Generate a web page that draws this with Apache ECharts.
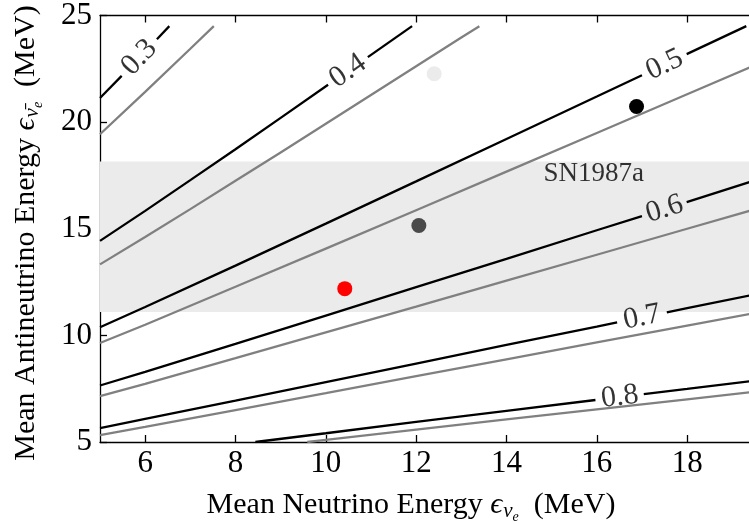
<!DOCTYPE html>
<html>
<head>
<meta charset="utf-8">
<script src="https://cdn.jsdelivr.net/npm/echarts@6/dist/echarts.min.js"></script>
<style>
  html, body { margin: 0; padding: 0; background: #ffffff; }
  #chart { width: 749px; height: 524px; }
</style>
</head>
<body>
<div id="chart"></div>
<script>
// Axis ranges and tick values (MeV)
const xRange = [5, 19.37];
const yRange = [5, 25];
const xTicks = [6, 8, 10, 12, 14, 16, 18];
const yTicks = [5, 10, 15, 20, 25];

// SN1987a antineutrino energy band (MeV)
const sn1987aBand = [11.1, 18.15];

// Contour levels
const levels = ['0.3', '0.4', '0.5', '0.6', '0.7', '0.8'];

// Black contours, each split in two pieces around its inline label
const black03 = [[[5, 21.13], [5.48, 22.17]], [[6.26, 23.89], [6.535, 24.5]]];
const black04 = [[[5, 14.43], [6, 15.84], [7, 17.28], [8, 18.73], [9, 20.20], [10.05, 21.75]],
                 [[10.93, 23.05], [11.91, 24.5]]];
const black05 = [[[5, 10.38], [6, 11.33], [8, 13.27], [10, 15.24], [12, 17.22], [14, 19.21], [16, 21.20], [17.0, 22.20]],
                 [[17.99, 23.19], [19.31, 24.5]]];
const black06 = [[[5, 7.65], [6, 8.29], [8, 9.60], [10, 10.93], [12, 12.26], [14, 13.59], [16, 14.93], [17.0, 15.59]],
                 [[17.99, 16.25], [19.4, 17.20]]];
const black07 = [[[5, 5.65], [6, 6.08], [8, 6.94], [10, 7.81], [12, 8.68], [14, 9.55], [16, 10.41], [16.45, 10.61]],
                 [[17.55, 11.08], [18, 11.28], [19.4, 11.88]]];
const black08 = [[[8.44, 5.0], [10, 5.41], [12, 5.94], [14, 6.46], [15.97, 6.97]],
                 [[17.04, 7.25], [18, 7.49], [19.4, 7.85]]];

// Gray contours (same levels, unlabeled)
const gray03 = [[5, 19.43], [6, 21.42], [7, 23.44], [7.52, 24.5]];
const gray04 = [[5, 13.33], [6, 14.61], [7, 15.92], [8, 17.25], [9, 18.58], [10, 19.92], [11, 21.27], [12, 22.62], [13, 23.97], [13.40, 24.5]];
const gray05 = [[5, 9.64], [6, 10.50], [8, 12.28], [10, 14.07], [12, 15.87], [14, 17.68], [16, 19.49], [18, 21.31], [19.4, 22.58]];
const gray06 = [[5, 7.15], [6, 7.73], [8, 8.93], [10, 10.14], [12, 11.35], [14, 12.57], [16, 13.78], [18, 15.00], [19.4, 15.85]];
const gray07 = [[5, 5.32], [6, 5.71], [8, 6.50], [10, 7.29], [12, 8.09], [14, 8.88], [16, 9.67], [18, 10.46], [19.4, 11.01]];
const gray08 = [[9.59, 5.0], [10, 5.10], [12, 5.58], [14, 6.06], [16, 6.53], [18, 7.00], [19.4, 7.33]];

// Inline label anchor on each black contour
const labelPoints = [[5.87, 23.03], [10.49, 22.40], [17.50, 22.69], [17.50, 15.92], [17.00, 10.85], [16.51, 7.11]];

// Model points (mean nu_e energy, mean nubar_e energy)
const modelPoints = [[10.42, 12.19], [12.06, 15.15], [12.40, 22.27], [16.88, 20.73]];

// SN1987a text anchor
const bandLabelPoint = [15.93, 17.55];

// ---- styling ----
const SERIF = '"Liberation Serif", "DejaVu Serif", serif';
const labelAngles = [46, 35, 25, 17.4, 11.4, 7];
const pointColors = ['#ff0000', '#4a4a4a', '#ebebeb', '#000000'];
const axisLineStyle = { color: '#000', width: 1.3 };

function lineSeries(pts, color, z) {
  return {
    type: 'line', data: pts, symbol: 'none', showSymbol: false, smooth: false,
    lineStyle: { color: color, width: 2.3 }, z: z, silent: true, clip: true
  };
}

const series = [];

// shaded band
series.push({
  type: 'line', data: [], z: 1, silent: true,
  markArea: {
    silent: true,
    itemStyle: { color: '#ebebeb' },
    data: [[{ yAxis: sn1987aBand[0] }, { yAxis: sn1987aBand[1] }]]
  }
});

[gray03, gray04, gray05, gray06, gray07, gray08].forEach(g => series.push(lineSeries(g, '#808080', 3)));
[black03, black04, black05, black06, black07, black08].forEach(b => {
  b.forEach(part => series.push(lineSeries(part, '#000000', 4)));
});

// contour labels
series.push({
  type: 'scatter', z: 6, silent: true, symbolSize: 1,
  itemStyle: { color: 'rgba(0,0,0,0)' },
  data: labelPoints.map((p, i) => ({
    value: p,
    label: {
      show: true, position: 'inside', formatter: levels[i], rotate: labelAngles[i],
      fontFamily: SERIF, fontSize: 30, color: '#000'
    }
  }))
});

// band label
series.push({
  type: 'scatter', z: 6, silent: true, symbolSize: 1,
  itemStyle: { color: 'rgba(0,0,0,0)' },
  data: [{ value: bandLabelPoint }],
  label: { show: true, position: 'inside', formatter: 'SN1987a', fontFamily: SERIF, fontSize: 27, color: '#000' }
});

// model points
series.push({
  type: 'scatter', z: 8, silent: true, symbolSize: 15,
  data: modelPoints.map((p, i) => ({ value: p, itemStyle: { color: pointColors[i], opacity: 1 } }))
});

const richTitle = {
  t: { fontFamily: SERIF, fontSize: 30, color: '#000' },
  m: { fontFamily: SERIF, fontSize: 30, fontStyle: 'italic', color: '#000' },
  s: { fontFamily: SERIF, fontSize: 21, fontStyle: 'italic', color: '#000', padding: [13, 0, 0, 1] },
  ss: { fontFamily: SERIF, fontSize: 14, fontStyle: 'italic', color: '#000', padding: [25, 0, 0, 0] }
};

const chart = echarts.init(document.getElementById('chart'), null, { renderer: 'canvas' });
chart.setOption({
  animation: false,
  backgroundColor: '#ffffff',
  grid: { left: 100, top: 15, right: -2, bottom: 82 },
  xAxis: [
    {
      type: 'value', position: 'bottom', min: xRange[0], max: xRange[1],
      axisLine: { show: true, onZero: false, lineStyle: axisLineStyle },
      axisTick: { show: true, inside: true, length: 7, customValues: xTicks, lineStyle: axisLineStyle },
      axisLabel: { show: true, customValues: xTicks, fontFamily: SERIF, fontSize: 31, color: '#000', margin: 6 },
      splitLine: { show: false }
    },
    {
      type: 'value', position: 'top', min: xRange[0], max: xRange[1],
      axisLine: { show: true, onZero: false, lineStyle: axisLineStyle },
      axisTick: { show: true, inside: true, length: 7, customValues: xTicks, lineStyle: axisLineStyle },
      axisLabel: { show: false },
      splitLine: { show: false }
    }
  ],
  yAxis: {
    type: 'value', min: yRange[0], max: yRange[1], interval: 5,
    axisLine: { show: true, onZero: false, lineStyle: axisLineStyle },
    axisTick: { show: true, inside: true, length: 7, customValues: yTicks, lineStyle: axisLineStyle },
    axisLabel: { show: true, customValues: yTicks, fontFamily: SERIF, fontSize: 31, color: '#000', margin: 8 },
    splitLine: { show: false }
  },
  graphic: [
    {
      type: 'text', x: 411, y: 505, silent: true,
      style: {
        text: '{t|Mean Neutrino Energy }{m|\u03f5}{s|\u03bd}{ss|e}{t|  (MeV)}',
        rich: richTitle, align: 'center', verticalAlign: 'middle'
      }
    },
    {
      type: 'text', x: 26, y: 233, rotation: Math.PI / 2, silent: true,
      style: {
        text: '{t|Mean Antineutrino Energy }{m|\u03f5}{s|\u03bd\u0304}{ss|e}{t|  (MeV)}',
        rich: richTitle, align: 'center', verticalAlign: 'middle'
      }
    }
  ],
  series: series
});
</script>
</body>
</html>
